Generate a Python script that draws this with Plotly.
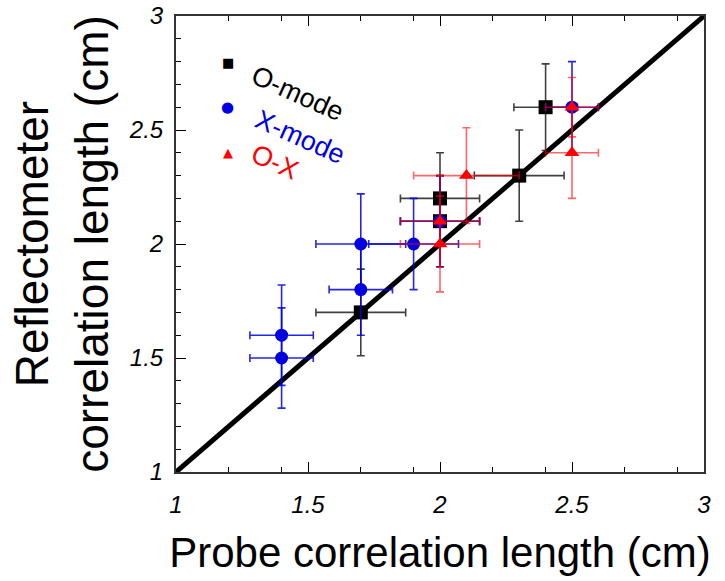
import plotly.graph_objects as go

# ---- data ----
o_x = [1.7, 2.0, 2.0, 2.3, 2.4]
o_y = [1.7, 2.2, 2.1, 2.3, 2.6]
o_xerr = [0.17, 0.15, 0.15, 0.17, 0.12]
o_yerr = [0.19, 0.20, 0.20, 0.20, 0.19]

x_x = [1.4, 1.4, 1.7, 1.7, 1.9, 2.0, 2.5]
x_y = [1.6, 1.5, 1.8, 2.0, 2.0, 2.1, 2.6]
x_xerr = [0.12, 0.12, 0.12, 0.17, 0.17, 0.15, 0.10]
x_yerr = [0.22, 0.22, 0.20, 0.22, 0.20, 0.20, 0.20]

ox_x = [2.0, 2.1, 2.0, 2.5, 2.5]
ox_y = [2.0, 2.3, 2.1, 2.6, 2.4]
ox_xerr = [0.15, 0.20, 0.15, 0.10, 0.10]
ox_yerr = [0.21, 0.21, 0.20, 0.13, 0.20]

diag = [1, 3]
major_ticks = [1, 1.5, 2, 2.5, 3]
major_labels = ["1", "1.5", "2", "2.5", "3"]
x_minor = [1.2, 1.4, 1.7, 1.9, 2.2, 2.4, 2.7, 2.9]
legend_names = ["O-mode", "X-mode", "O-X"]

BLACK = "black"
BLUE = "rgb(0,0,225)"
RED = "rgb(255,0,0)"

fig = go.Figure()
fig.add_trace(go.Scatter(x=diag, y=diag, mode="lines",
                         line=dict(color="black", width=5), showlegend=False))

def add(xs, ys, xe, ye, color, ecolor, symbol, size):
    fig.add_trace(go.Scatter(
        x=xs, y=ys, mode="markers",
        marker=dict(symbol=symbol, size=size, color=color, line=dict(width=0)),
        error_x=dict(type="data", array=xe, color=ecolor, thickness=1.6, width=4),
        error_y=dict(type="data", array=ye, color=ecolor, thickness=1.6, width=4),
        showlegend=False))

add(o_x, o_y, o_xerr, o_yerr, BLACK, "rgba(0,0,0,0.75)", "square", 14)
add(x_x, x_y, x_xerr, x_yerr, BLUE, "rgba(0,0,225,0.85)", "circle", 13)
add(ox_x, ox_y, ox_xerr, ox_yerr, RED, "rgba(255,0,0,0.6)", "triangle-up", 13)

# legend drawn as annotations (rotated text like the reference)
leg_sym = ["■", "●", "▲"]
leg_col = [BLACK, BLUE, RED]
sym_y = [0.899, 0.80, 0.70]
txt_pos = [(0.232, 0.83), (0.235, 0.735), (0.187, 0.68)]
for i, name in enumerate(legend_names):
    fig.add_annotation(xref="paper", yref="paper", x=0.098, y=sym_y[i],
                       text=leg_sym[i], showarrow=False,
                       font=dict(size=13 if i != 1 else 15, color=leg_col[i], family="DejaVu Sans"),
                       xanchor="center", yanchor="middle")
    fig.add_annotation(xref="paper", yref="paper", x=txt_pos[i][0], y=txt_pos[i][1],
                       text=name, showarrow=False, textangle=24,
                       font=dict(size=27, color=leg_col[i], family="Liberation Sans"),
                       xanchor="center", yanchor="middle")

axis_common = dict(
    range=[1, 3], tickvals=major_ticks, ticktext=major_labels,
    ticks="inside", ticklen=10, tickwidth=1.3, tickcolor="black",
    showline=True, linecolor="#333", linewidth=2,
    showgrid=False, zeroline=False, automargin=False,
    tickfont=dict(size=24, color="black", family="Liberation Sans", style="italic"),
)

fig.update_xaxes(**axis_common, mirror="ticks",
                 minor=dict(tickvals=x_minor, ticks="inside", ticklen=5, tickcolor="black", tickwidth=1.3),
                 ticklabelstandoff=10,
                 title=dict(text="Probe correlation length (cm)",
                            font=dict(size=42, color="black", family="Liberation Sans"),
                            standoff=21))
fig.update_yaxes(**axis_common, mirror=True,
                 minor=dict(dtick=0.1, tick0=1, ticks="inside", ticklen=5, tickcolor="black", tickwidth=1.3),
                 ticklabelstandoff=6,
                 title=dict(text="Reflectometer<br>correlation length (cm)",
                            font=dict(size=46, color="black", family="Liberation Sans"),
                            standoff=6))

fig.update_layout(
    width=725, height=581,
    margin=dict(l=176, r=21, t=16, b=109),
    plot_bgcolor="white", paper_bgcolor="white",
    showlegend=False,
)

fig.write_html("out.html")
